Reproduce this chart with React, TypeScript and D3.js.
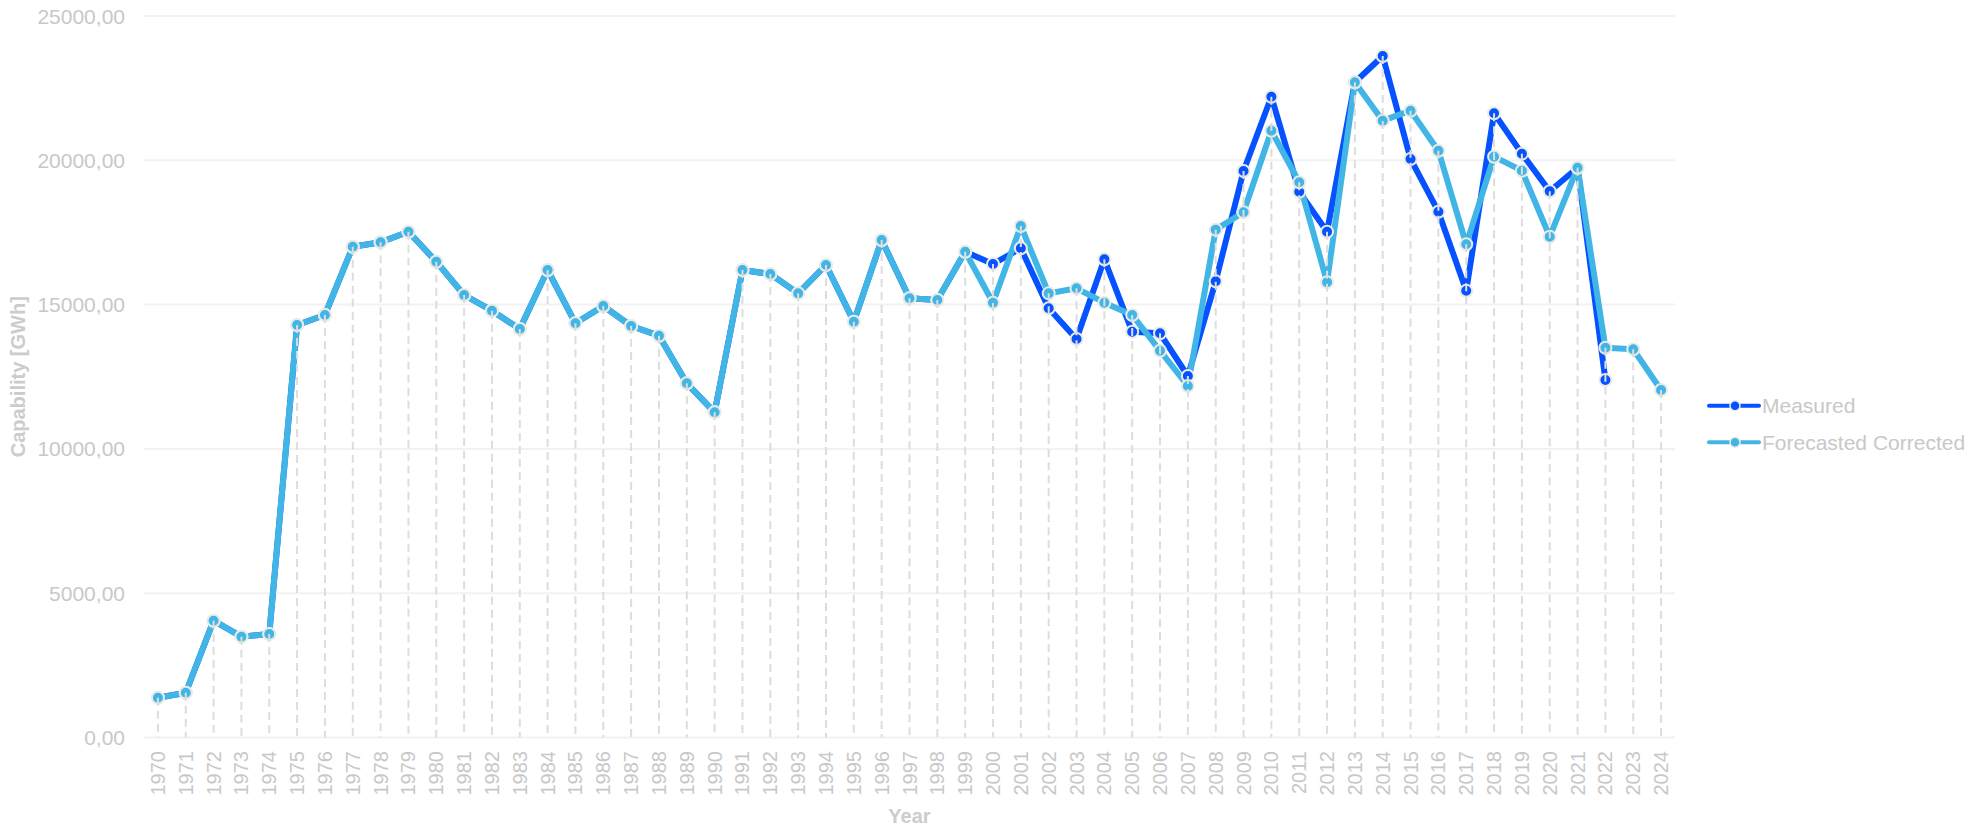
import React from "react";
import * as d3 from "d3";

const years: number[] = Array.from({ length: 55 }, (_, i) => 1970 + i);

const measured: (number | null)[] = [
  1379, 1552, 4047, 3493, 3586, 14293, 14640, 17006, 17158, 17526,
  16487, 15333, 14789, 14155, 16199, 14352, 14952, 14258, 13923, 12273,
  11268, 16199, 16060, 15390, 16372, 14408, 17238, 15218, 15159, 16833,
  16407, 16951, 14872, 13808, 16570, 14062, 14005, 12526, 15806, 19629,
  22204, 18912, 17526, 22703, 23614, 20045, 18219, 15482, 21629, 20230,
  18930, 19744, 12387, null, null,
];

const forecasted: (number | null)[] = [
  1379, 1552, 4047, 3493, 3586, 14293, 14640, 17006, 17158, 17526,
  16487, 15333, 14789, 14155, 16199, 14352, 14952, 14258, 13923, 12273,
  11268, 16199, 16060, 15390, 16372, 14408, 17238, 15218, 15159, 16833,
  15066, 17723, 15390, 15564, 15066, 14640, 13403, 12180, 17597, 18198,
  21026, 19238, 15773, 22703, 21373, 21719, 20333, 17089, 20125, 19640,
  17353, 19744, 13507, 13451, 12041,
];

const yTicks: number[] = [0, 5000, 10000, 15000, 20000, 25000];

const seriesNames = ["Measured", "Forecasted Corrected"];
const seriesColors = ["#0652ff", "#41b6e6"];

export default function App() {
  const W = 1984, H = 828;
  const left = 144, right = 1675, top = 16, bottom = 737.5;
  const x = d3.scaleBand<number>().domain(years).range([left, right]).padding(0);
  const cx = (yr: number) => (x(yr) as number) + x.bandwidth() / 2;
  const y = d3.scaleLinear().domain([0, 25000]).range([bottom, top]);
  const fmt = (v: number) => d3.format(".2f")(v).replace(".", ",");
  const font = "'Liberation Sans', Arial, sans-serif";
  const textColor = "#c8c8c8";

  const allSeries = [measured, forecasted];
  const lineGen = d3
    .line<number | null>()
    .defined((d) => d !== null)
    .x((_, i) => cx(years[i]))
    .y((d) => y(d as number));

  const topVals = years.map((_, i) => {
    const vs = allSeries.map((s) => s[i]).filter((v) => v !== null) as number[];
    return vs.length ? (d3.max(vs) as number) : null;
  });

  return (
    <svg width={W} height={H} style={{ position: "absolute", left: 0, top: 0 }} fontFamily={font}>
      {yTicks.map((t) => (
        <g key={"g" + t}>
          <line x1={left} x2={right} y1={y(t)} y2={y(t)} stroke="#f2f2f2" strokeWidth={2} />
          <text x={125} y={y(t)} textAnchor="end" dominantBaseline="central" fontSize={21} fill={textColor}>
            {fmt(t)}
          </text>
        </g>
      ))}
      {years.map((yr) => (
        <text
          key={"x" + yr}
          transform={`translate(${cx(yr)},751) rotate(-90)`}
          textAnchor="end"
          dominantBaseline="central"
          fontSize={20}
          fill={textColor}
        >
          {yr}
        </text>
      ))}
      <text x={(left + right) / 2} y={823} textAnchor="middle" fontSize={20} fontWeight="bold" fill="#cccccc">
        Year
      </text>
      <text
        transform={`translate(18,${(top + bottom) / 2}) rotate(-90)`}
        textAnchor="middle"
        dominantBaseline="central"
        fontSize={20}
        fontWeight="bold"
        fill="#cccccc"
      >
        Capability [GWh]
      </text>
      {allSeries.map((s, si) => (
        <path key={"l" + si} d={lineGen(s) || ""} fill="none" stroke={seriesColors[si]} strokeWidth={6} strokeLinejoin="round" />
      ))}
      {allSeries.map((s, si) =>
        s.map((v, i) =>
          v === null ? null : (
            <circle key={`m${si}-${i}`} cx={cx(years[i])} cy={y(v)} r={6} fill={seriesColors[si]} stroke="#ebebe6" strokeWidth={2} />
          )
        )
      )}
      {topVals.map((v, i) =>
        v === null ? null : (
          <line
            key={`d${i}`}
            x1={cx(years[i])}
            x2={cx(years[i])}
            y1={y(v)}
            y2={bottom}
            stroke="#dddddd"
            strokeWidth={2}
            strokeDasharray="8,5"
          />
        )
      )}
      {seriesNames.map((n, i) => {
        const ly = 405.7 + i * 36.5;
        return (
          <g key={"lg" + i}>
            <line x1={1709} x2={1759} y1={ly} y2={ly} stroke={seriesColors[i]} strokeWidth={4} strokeLinecap="round" />
            <circle cx={1735} cy={ly} r={5} fill={seriesColors[i]} stroke="#ebebe6" strokeWidth={1.5} />
            <text x={1762} y={ly} dominantBaseline="central" fontSize={21} fill={textColor}>
              {n}
            </text>
          </g>
        );
      })}
    </svg>
  );
}
